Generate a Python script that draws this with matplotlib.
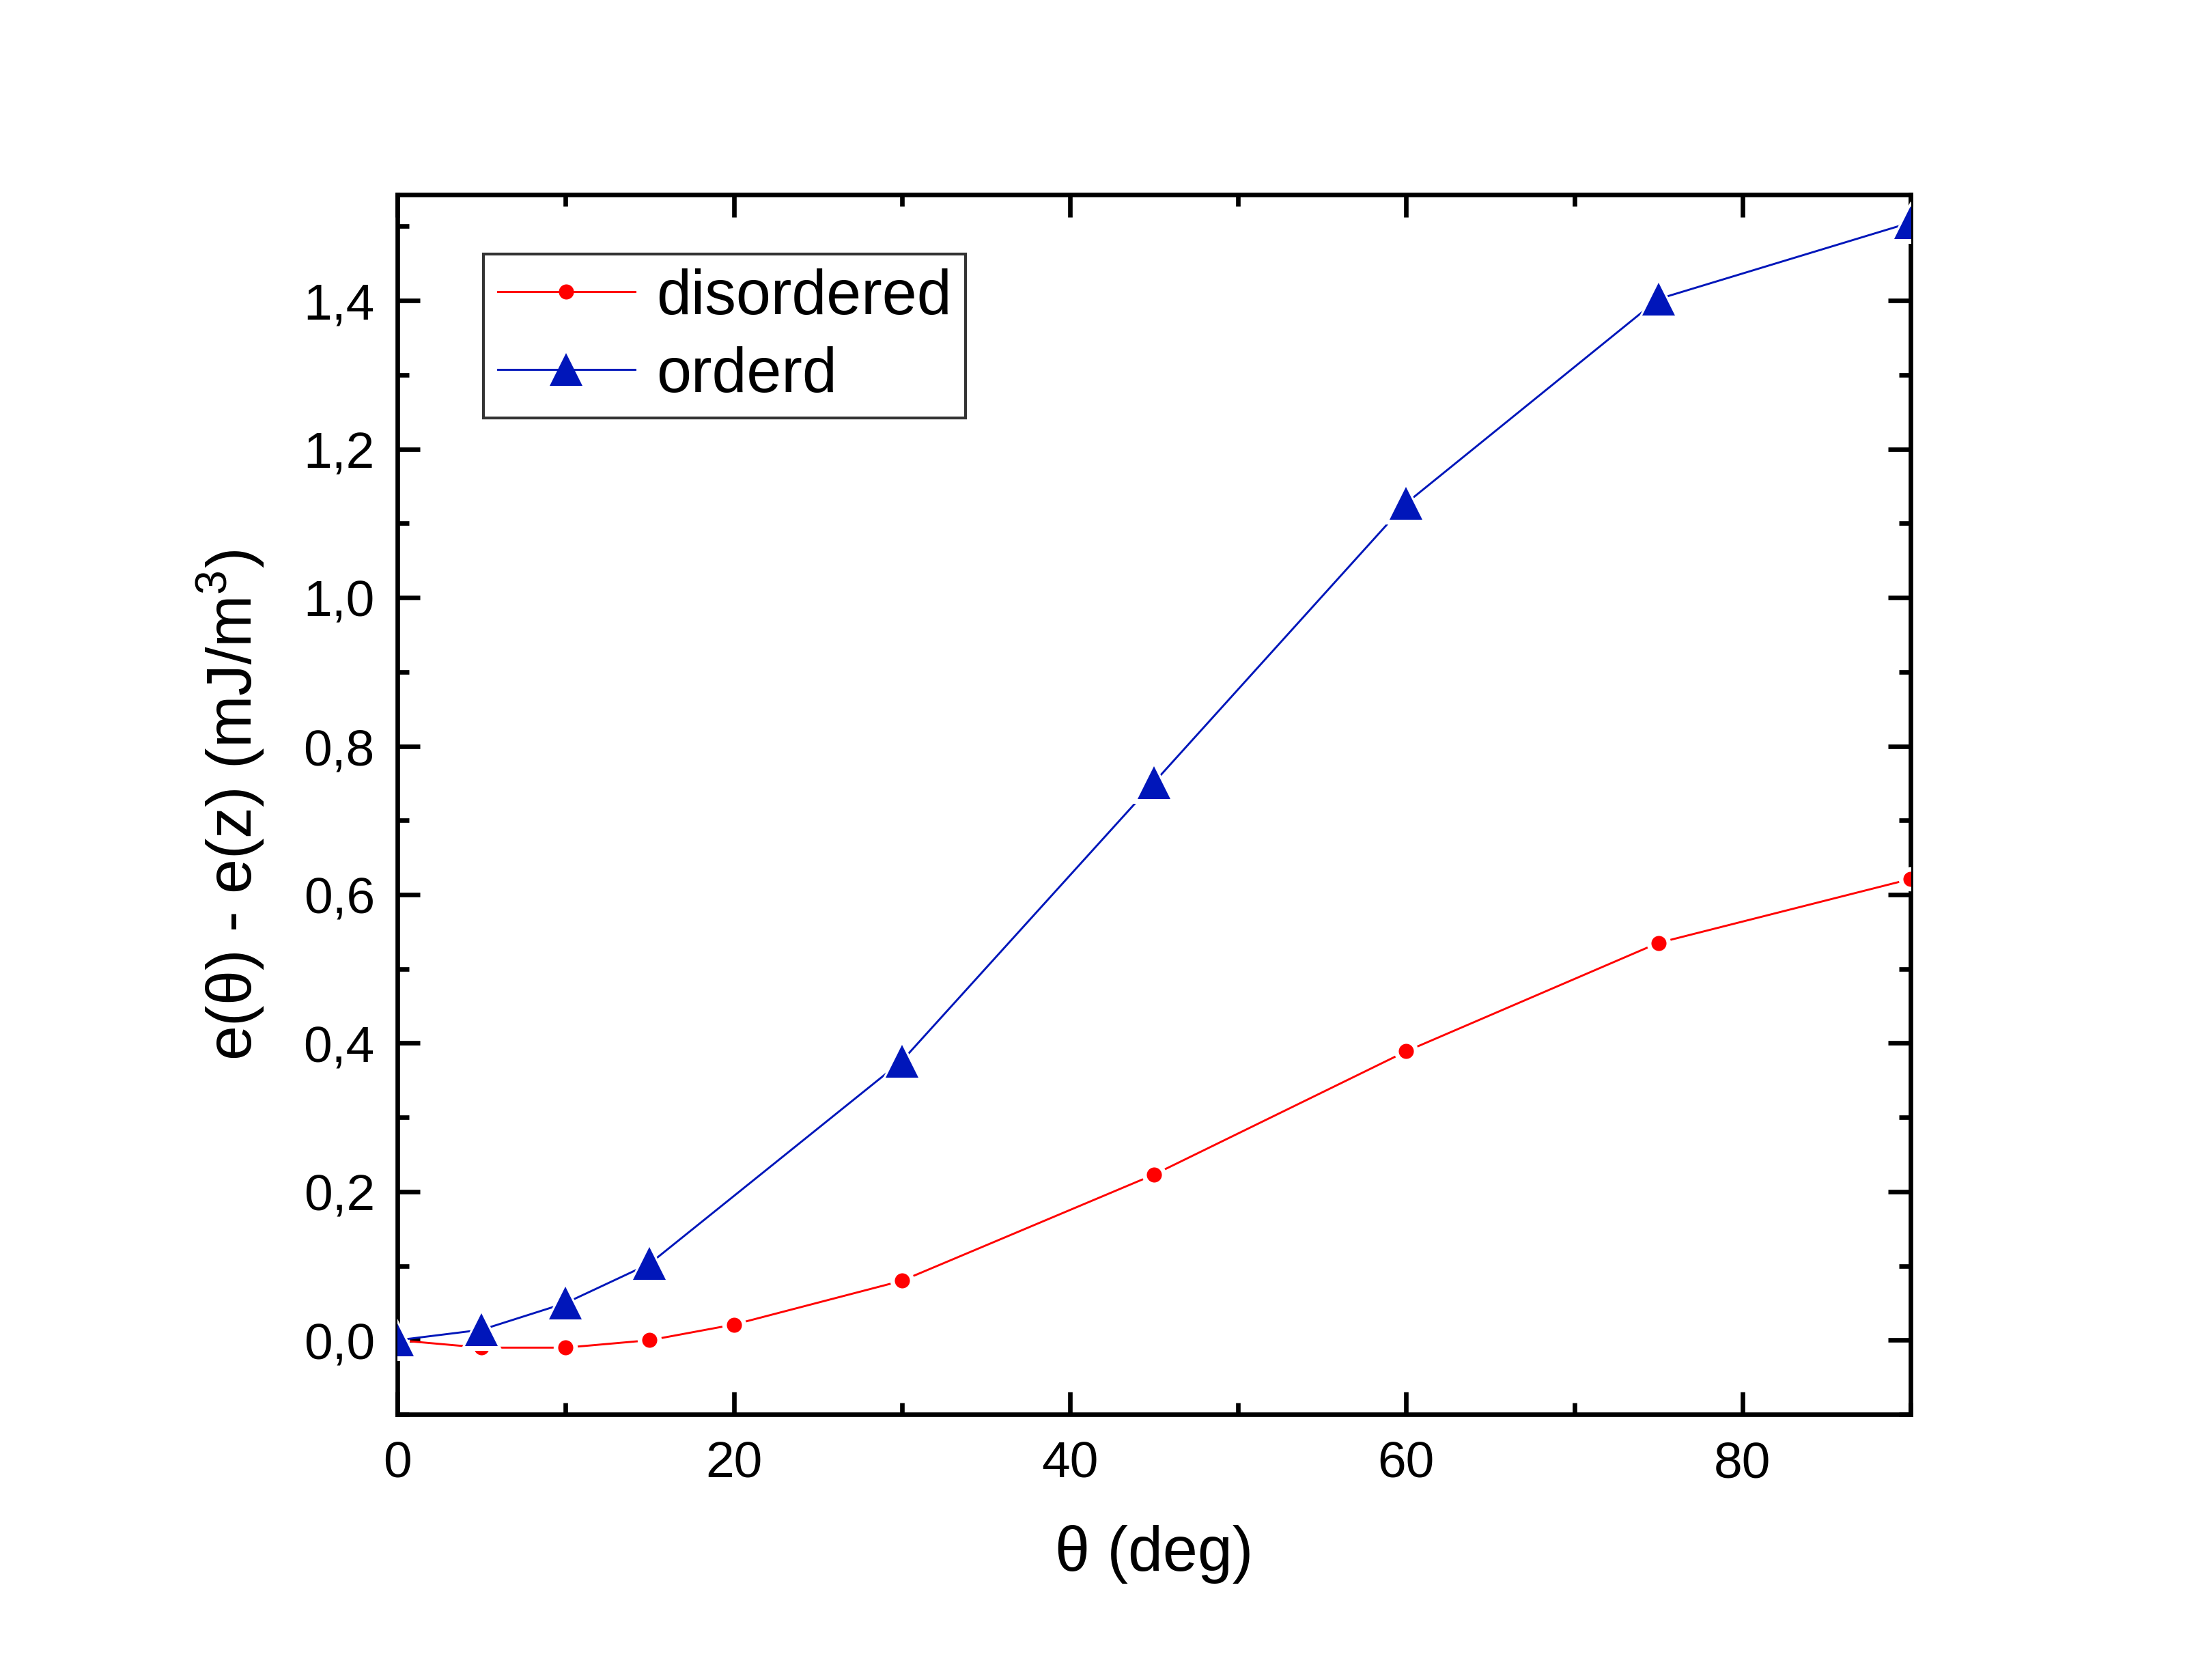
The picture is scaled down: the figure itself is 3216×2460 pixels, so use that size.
import matplotlib
matplotlib.use("Agg")
import matplotlib.pyplot as plt
from matplotlib.ticker import MultipleLocator, FuncFormatter

plt.rcParams['font.family'] = ['Liberation Sans', 'DejaVu Sans']
plt.rcParams['mathtext.fontset'] = 'custom'
plt.rcParams['mathtext.rm'] = 'Liberation Sans'

# data
theta_dis = [0, 5, 10, 15, 20, 30, 45, 60, 75, 90]
e_dis = [0.0, -0.01, -0.01, 0.0, 0.021, 0.08, 0.223, 0.389, 0.535, 0.621]
theta_ord = [0, 5, 10, 15, 30, 45, 60, 75, 90]
e_ord = [0.0, 0.014, 0.05, 0.103, 0.376, 0.751, 1.127, 1.402, 1.505]

red = '#FF0000'
blue = '#0016BA'

fig = plt.figure(figsize=(10.72, 8.203), dpi=300)
ax = fig.add_axes([0.181, 0.158, 0.689, 0.726])

# lines, then white underlay markers to make gaps, then the markers
ax.plot(theta_dis, e_dis, '-', color=red, lw=0.7, zorder=2)
ax.plot(theta_dis, e_dis, 'o', color='white', ms=8.5, mew=0, zorder=3)
ax.plot(theta_dis, e_dis, 'o', color=red, ms=5.3, mew=0, zorder=4)

ax.plot(theta_ord, e_ord, '-', color=blue, lw=0.7, zorder=5)
ax.plot(theta_ord, e_ord, '^', color='white', ms=15, mew=0, zorder=6)
ax.plot(theta_ord, e_ord, '^', color=blue, ms=11.5, mew=0, zorder=7)

# legend proxies
h1, = ax.plot([], [], '-o', color=red, lw=0.7, ms=5.3, mew=0)
h2, = ax.plot([], [], '-^', color=blue, lw=0.7, ms=11.5, mew=0)
leg = ax.legend([h1, h2], ['disordered', 'orderd'], loc='upper left',
                bbox_to_anchor=(0.057, 0.951), borderaxespad=0,
                fontsize=22, frameon=True, fancybox=False, shadow=False,
                handlelength=2.2, handletextpad=0.34, labelspacing=0.3,
                borderpad=0.22)
leg.get_frame().set_edgecolor('black')
leg.get_frame().set_linewidth(1.0)

ax.set_xlim(0, 90)
ax.set_ylim(-0.1, 1.543)
ax.xaxis.set_major_locator(MultipleLocator(20))
ax.xaxis.set_minor_locator(MultipleLocator(10))
ax.yaxis.set_major_locator(MultipleLocator(0.2))
ax.yaxis.set_minor_locator(MultipleLocator(0.1))
ax.yaxis.set_major_formatter(FuncFormatter(lambda v, p: ('%.1f' % v).replace('.', ',').replace('-0,0', '0,0')))

for s in ax.spines.values():
    s.set_linewidth(1.6)
ax.tick_params(which='both', direction='in', top=True, right=True, width=1.6, labelsize=18)
ax.tick_params(which='major', length=8)
ax.tick_params(which='minor', length=4)
ax.tick_params(axis='x', pad=9)
ax.tick_params(axis='y', pad=8)

ax.set_xlabel('θ (deg)', fontsize=22, labelpad=13)
ax.set_ylabel('e(θ) - e(z) (mJ/m$^{3}$)', fontsize=22, labelpad=13)

fig.savefig('out.png', dpi=300)
